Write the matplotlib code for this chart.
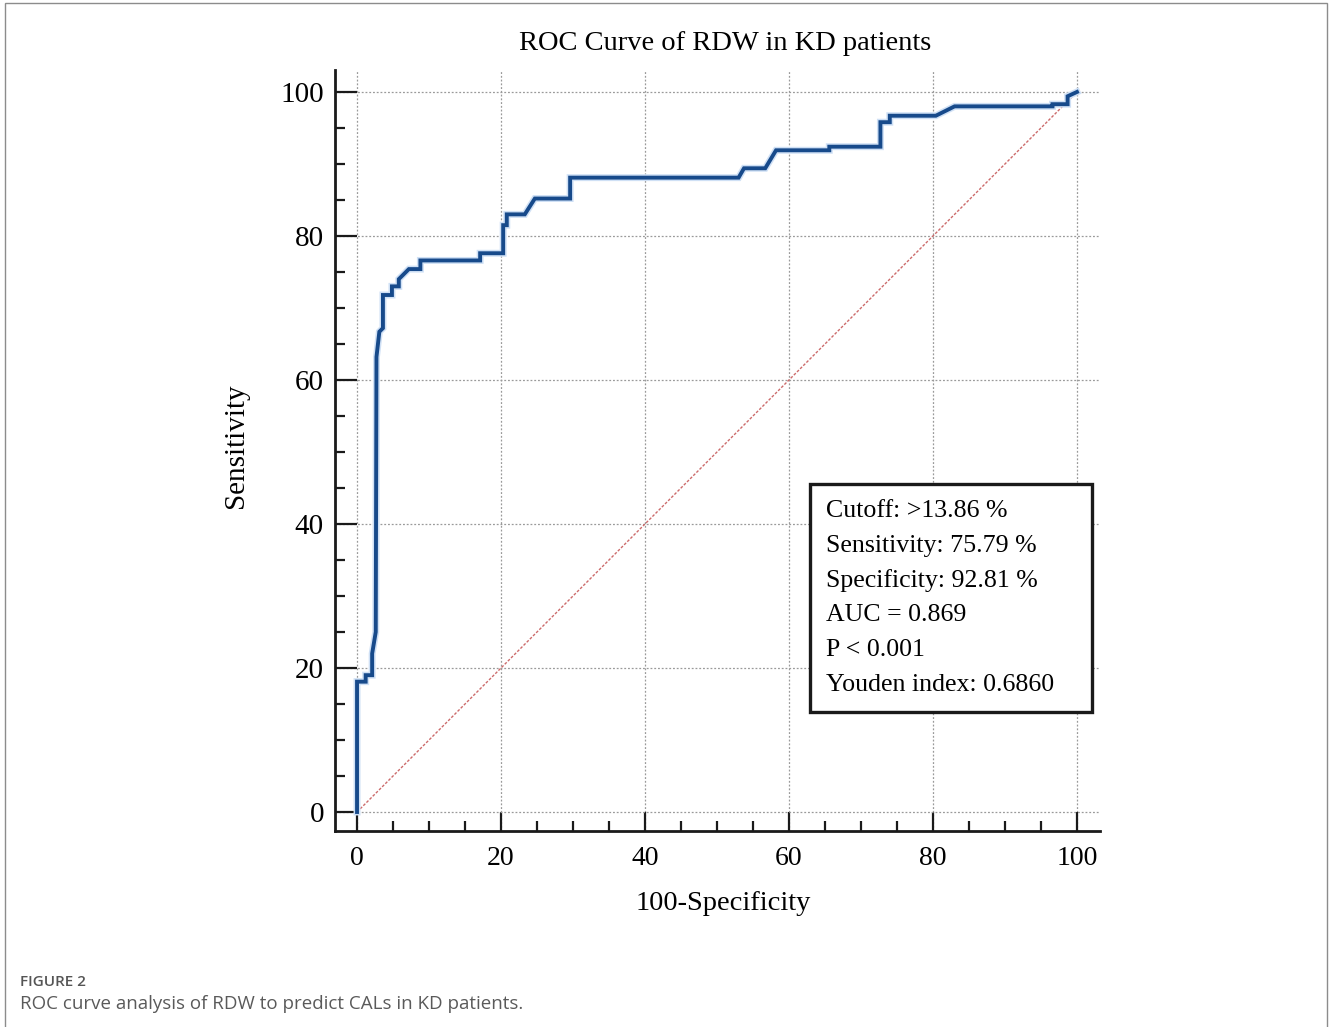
import matplotlib
matplotlib.use("Agg")
import matplotlib.pyplot as plt
from matplotlib.patches import Rectangle
from matplotlib.ticker import MultipleLocator

# ROC curve vertices (100-specificity, sensitivity)
fpr = [0, 0, 1.2, 1.2, 2.1, 2.1, 2.6, 2.7, 3.1, 3.6, 3.6, 4.85, 4.85, 5.8, 5.8,
       7.2, 8.8, 8.8, 17.1, 17.1, 20.3, 20.3, 20.8, 20.8, 23.3, 24.7, 29.6, 29.6,
       53.0, 53.75, 56.7, 58.2, 65.6, 65.6, 72.7, 72.7, 74.0, 74.0, 80.4, 83.0,
       96.6, 96.6, 98.7, 98.7, 100]
tpr = [0, 18.1, 18.1, 19.0, 19.0, 22.0, 25.0, 63.2, 66.7, 67.2, 71.8, 71.8, 73.0,
       73.0, 74.0, 75.4, 75.4, 76.6, 76.6, 77.6, 77.6, 81.5, 81.5, 83.0, 83.0,
       85.2, 85.2, 88.1, 88.1, 89.4, 89.4, 91.9, 91.9, 92.4, 92.4, 95.8, 95.8,
       96.7, 96.7, 98.0, 98.0, 98.3, 98.3, 99.4, 100]
ref_line = [0, 100]

ticks = [0, 20, 40, 60, 80, 100]
stats_lines = ["Cutoff: >13.86 %", "Sensitivity: 75.79 %", "Specificity: 92.81 %",
               "AUC = 0.869", "P < 0.001", "Youden index: 0.6860"]

W, H = 1330, 1027
fig = plt.figure(figsize=(W / 100, H / 100), dpi=100)
serif = "Liberation Serif"
sans = "Open Sans"

# outer frame of the figure panel
fig.add_artist(Rectangle((5 / W, -0.01), 1322 / W, 1 - 3 / H + 0.01, transform=fig.transFigure,
                         fill=False, edgecolor="#8c8c8c", linewidth=1))

ax = fig.add_axes([335 / W, 196 / H, 765 / W, 761 / H])
ax.plot(ref_line, ref_line, color="#cc6b6b", linewidth=1, linestyle=(0, (2, 1.2)), zorder=2)
ax.plot(fpr, tpr, color="#cfe0f5", linewidth=5, solid_joinstyle="miter", zorder=3)
ax.plot(fpr, tpr, color="#174a8b", linewidth=2.8, solid_joinstyle="miter", zorder=4)

ax.set_xlim(-3.06, 103.2)
ax.set_ylim(-2.64, 103.05)
ax.set_xticks(ticks)
ax.set_yticks(ticks)
ax.xaxis.set_minor_locator(MultipleLocator(5))
ax.yaxis.set_minor_locator(MultipleLocator(5))
ax.grid(True, which="major", color="#9a9a9a", linestyle=(0, (1.5, 1.5)), linewidth=0.9)
ax.set_axisbelow(True)

for side in ["top", "right"]:
    ax.spines[side].set_visible(False)
for side in ["left", "bottom"]:
    ax.spines[side].set_linewidth(2)
    ax.spines[side].set_color("#1a1a1a")

ax.tick_params(axis="y", which="major", direction="in", length=15.8, width=1.6, pad=8, color="#1a1a1a")
ax.tick_params(axis="y", which="minor", direction="in", length=7.5, width=1.6, color="#1a1a1a")
ax.tick_params(axis="x", which="major", direction="in", length=13.7, width=1.6, pad=11, color="#1a1a1a")
ax.tick_params(axis="x", which="minor", direction="in", length=7, width=1.6, color="#1a1a1a")
for lab in ax.get_xticklabels():
    lab.set_fontfamily(serif)
    lab.set_fontsize(20)
for lab in ax.get_yticklabels():
    lab.set_fontfamily(serif)
    lab.set_fontsize(21)

fig.text(725 / W, 1 - 43 / H, "ROC Curve of RDW in KD patients", ha="center", va="center",
         family=serif, fontsize=20.5)
fig.text(723 / W, 1 - 903 / H, "100-Specificity", ha="center", va="center", family=serif, fontsize=20.5)
fig.text(236 / W, 1 - 446 / H, "Sensitivity", ha="center", va="center", rotation=90,
         family=serif, fontsize=21)

# statistics box
fig.add_artist(Rectangle((810 / W, 1 - 712 / H), 282 / W, 228 / H, transform=fig.transFigure,
                         facecolor="white", edgecolor="#1a1a1a", linewidth=2.4, zorder=5))
for i, line in enumerate(stats_lines):
    fig.text(826 / W, 1 - (511 + i * 34.8) / H, line, ha="left", va="center",
             family=serif, fontsize=18.6, zorder=6)

# caption
fig.text(20 / W, 1 - 982 / H, "FIGURE 2", ha="left", va="center", family=sans,
         fontsize=11, fontweight="semibold", color="#555555")
fig.text(20 / W, 1 - 1004 / H, "ROC curve analysis of RDW to predict CALs in KD patients.",
         ha="left", va="center", family=sans, fontsize=13.5, color="#5a5a5a")

fig.savefig("out.png", dpi=100)
